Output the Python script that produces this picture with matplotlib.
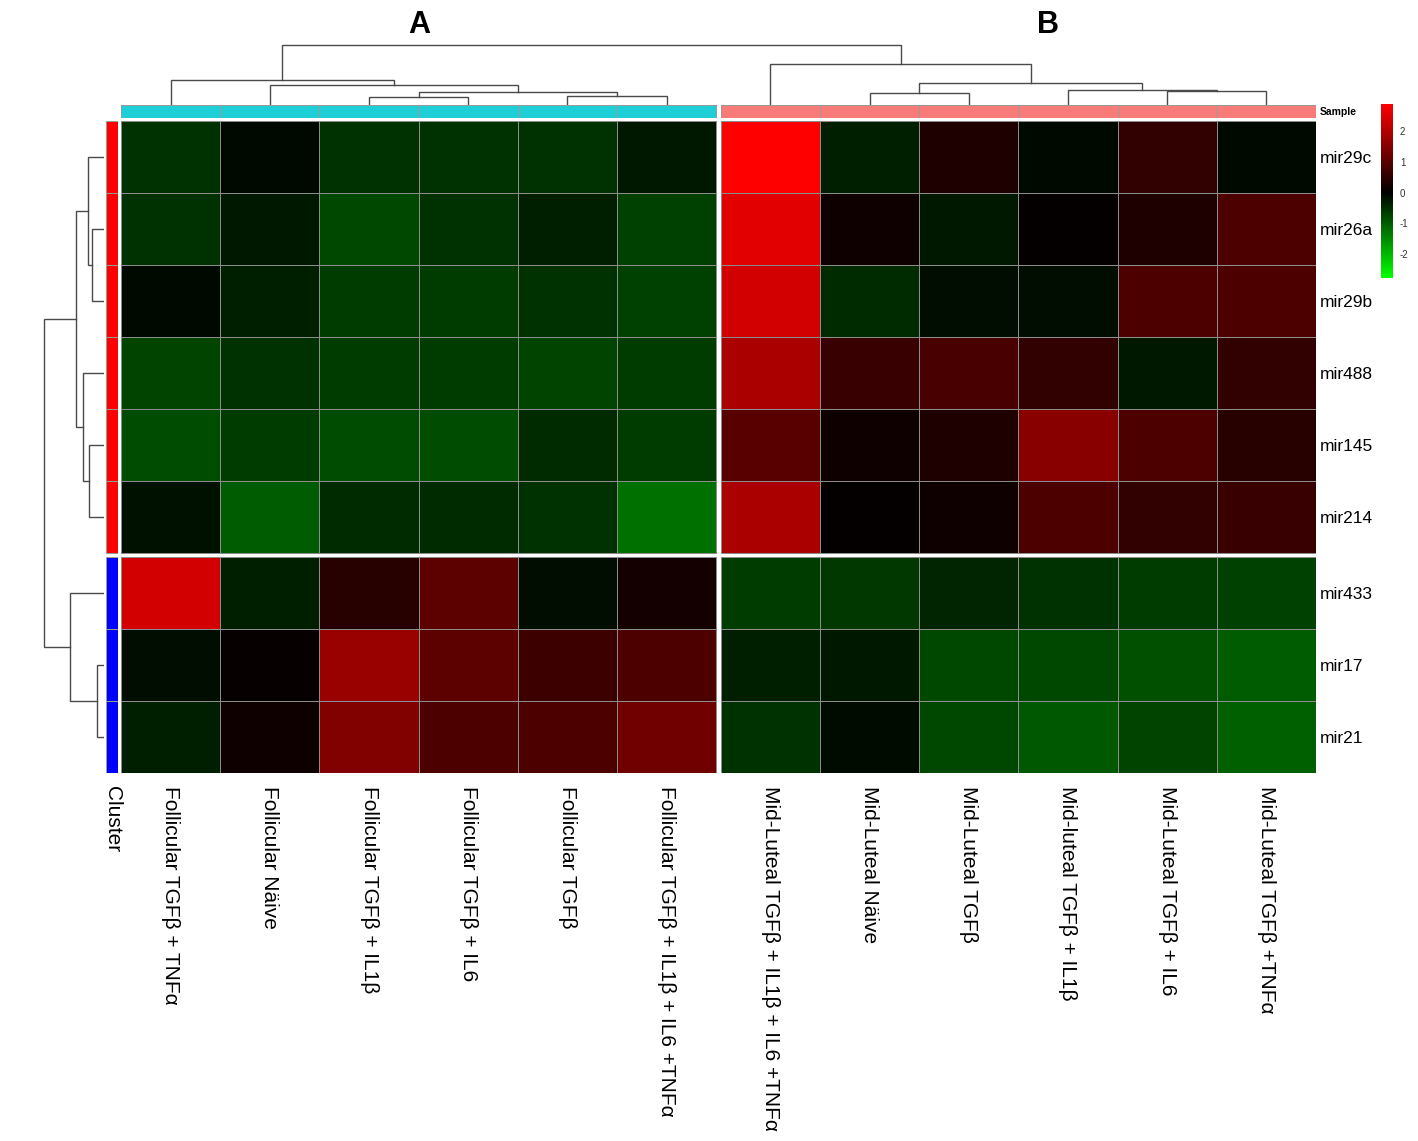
import numpy as np
import matplotlib.pyplot as plt
from matplotlib.colors import LinearSegmentedColormap, Normalize, ListedColormap
from matplotlib.cm import ScalarMappable

plt.rcParams['font.family'] = ['Liberation Sans', 'DejaVu Sans']
plt.rcParams['axes.unicode_minus'] = False

# ---- data ----
samples = ['Follicular TGFβ + TNFα', 'Follicular Näive', 'Follicular TGFβ + IL1β',
           'Follicular TGFβ + IL6', 'Follicular TGFβ', 'Follicular TGFβ + IL1β + IL6 +TNFα',
           'Mid-Luteal TGFβ + IL1β + IL6 +TNFα', 'Mid-Luteal Näive', 'Mid-Luteal TGFβ',
           'Mid-luteal TGFβ + IL1β', 'Mid-Luteal TGFβ + IL6', 'Mid-Luteal TGFβ +TNFα']
sample_group = [0, 0, 0, 0, 0, 0, 1, 1, 1, 1, 1, 1]      # 0 = follicular, 1 = mid-luteal
mirnas = ['mir29c', 'mir26a', 'mir29b', 'mir488', 'mir145', 'mir214', 'mir433', 'mir17', 'mir21']
mirna_cluster = [0, 0, 0, 0, 0, 0, 1, 1, 1]

mir29c = [-0.53, -0.09, -0.53, -0.53, -0.53, -0.26, 2.90, -0.35, 0.36, -0.09, 0.55, -0.09]
mir26a = [-0.53, -0.26, -0.79, -0.53, -0.35, -0.70, 2.55, 0.18, -0.26, 0.07, 0.36, 0.86]
mir29b = [-0.09, -0.35, -0.66, -0.66, -0.53, -0.70, 2.37, -0.48, -0.13, -0.13, 0.86, 0.86]
mir488 = [-0.75, -0.53, -0.66, -0.66, -0.75, -0.66, 1.93, 0.64, 0.82, 0.55, -0.26, 0.55]
mir145 = [-0.83, -0.66, -0.83, -0.83, -0.48, -0.66, 1.00, 0.18, 0.36, 1.55, 0.86, 0.45]
mir214 = [-0.18, -1.01, -0.48, -0.48, -0.53, -1.23, 1.93, 0.07, 0.18, 0.86, 0.55, 0.64]
mir433 = [2.37, -0.35, 0.45, 1.05, -0.13, 0.23, -0.66, -0.61, -0.40, -0.53, -0.66, -0.70]
mir17 = [-0.13, 0.09, 1.73, 1.05, 0.68, 0.86, -0.35, -0.26, -0.79, -0.79, -0.88, -1.01]
mir21 = [-0.35, 0.18, 1.46, 0.86, 0.86, 1.27, -0.53, -0.11, -0.79, -0.97, -0.75, -1.05]

# dendrograms: (left, right, height), ids >= n_leaves point at earlier merges
col_merges = [(2, 3, 8), (4, 5, 9), (12, 13, 13), (1, 14, 20), (0, 15, 25.5),
              (10, 11, 14), (9, 17, 15.3), (7, 8, 12), (19, 18, 22.4), (6, 20, 41.5),
              (16, 21, 60)]
row_merges = [(1, 2, 12), (0, 9, 16.4), (4, 5, 14.8), (3, 11, 20.7), (10, 12, 27.9),
              (7, 8, 6.6), (6, 14, 33.8), (13, 15, 60)]

vals = np.array([mir29c, mir26a, mir29b, mir488, mir145, mir214, mir433, mir17, mir21])

# ---- layout helpers (pixel boxes of the reference) ----
W, H = 1418, 1141
def box(x0, y0, x1, y1):
    return [x0 / W, 1 - y1 / H, (x1 - x0) / W, (y1 - y0) / H]

gx, gy = 0.045, 0.06          # gaps between the cut groups
ncol, nrow = len(samples), len(mirnas)
col_cut, row_cut = 6, 6
col_pos = np.arange(ncol) + 0.5 + np.where(np.arange(ncol) >= col_cut, gx, 0)
row_pos = np.arange(nrow) + 0.5 + np.where(np.arange(nrow) >= row_cut, gy, 0)
col_blocks = [(0, col_cut), (col_cut, ncol)]
row_blocks = [(0, row_cut), (row_cut, nrow)]

vmin, vmax = -2.8, 2.9
f0 = -vmin / (vmax - vmin)
cmap = LinearSegmentedColormap.from_list('gr', [(0, (0, 1, 0)), (f0, (0, 0, 0)), (1, (1, 0, 0))])
norm = Normalize(vmin, vmax)
edge = '#8c8c8c'

fig = plt.figure(figsize=(W / 100, H / 100), dpi=100)

# ---- heatmap ----
ax = fig.add_axes(box(121, 121, 1316, 773))
for c0, c1 in col_blocks:
    for r0, r1 in row_blocks:
        xe = np.arange(c0, c1 + 1) + (gx if c0 >= col_cut else 0)
        ye = np.arange(r0, r1 + 1) + (gy if r0 >= row_cut else 0)
        ax.pcolormesh(xe, ye, vals[r0:r1, c0:c1], cmap=cmap, norm=norm,
                      edgecolors=edge, linewidth=0.7)
ax.set_xlim(0, ncol + gx)
ax.set_ylim(nrow + gy, 0)
for s in ax.spines.values():
    s.set_visible(False)
ax.set_xticks(col_pos)
ax.set_xticklabels(samples, rotation=270, fontsize=15)
ax.yaxis.tick_right()
ax.set_yticks(row_pos)
ax.set_yticklabels(mirnas, fontsize=12.5)
ax.tick_params(axis='x', length=0, pad=9)
ax.tick_params(axis='y', length=0, pad=3)

# ---- annotation bars ----
axs = fig.add_axes(box(121, 105, 1316, 118))
grp = np.array(sample_group)[None, :]
for c0, c1 in col_blocks:
    xe = np.arange(c0, c1 + 1) + (gx if c0 >= col_cut else 0)
    axs.pcolormesh(xe, [0, 1], grp[:, c0:c1], cmap=ListedColormap(['#1fcfd8', '#f77b79']),
                   vmin=0, vmax=1, edgecolors='#9a9a9a', linewidth=0.7)
axs.set_xlim(0, ncol + gx)
axs.set_ylim(0, 1)
axs.axis('off')

axc = fig.add_axes(box(106, 121, 118, 773))
clu = np.array(mirna_cluster)[:, None]
for r0, r1 in row_blocks:
    ye = np.arange(r0, r1 + 1) + (gy if r0 >= row_cut else 0)
    axc.pcolormesh([0, 1], ye, clu[r0:r1], cmap=ListedColormap(['#ff0000', '#0000ff']),
                   vmin=0, vmax=1, edgecolors='#9a9a9a', linewidth=0.6)
axc.set_xlim(0, 1)
axc.set_ylim(nrow + gy, 0)
axc.axis('off')

# ---- dendrograms ----
def draw_dendro(ax, merges, leaf_pos, top):
    pos = list(leaf_pos)
    hgt = [0.0] * len(leaf_pos)
    for a, b, h in merges:
        xs = [pos[a], pos[a], pos[b], pos[b]]
        ys = [hgt[a], h, h, hgt[b]]
        if top:
            ax.plot(xs, ys, color='#4a4a4a', lw=1.0, solid_joinstyle='miter')
        else:
            ax.plot(ys, xs, color='#4a4a4a', lw=1.0, solid_joinstyle='miter')
        pos.append((pos[a] + pos[b]) / 2)
        hgt.append(h)

axt = fig.add_axes(box(121, 40, 1316, 105))
draw_dendro(axt, col_merges, col_pos, True)
axt.set_xlim(0, ncol + gx)
axt.set_ylim(0, 65)
axt.axis('off')

axl = fig.add_axes(box(40, 121, 104, 773))
draw_dendro(axl, row_merges, row_pos, False)
axl.set_xlim(64, 0)
axl.set_ylim(nrow + gy, 0)
axl.axis('off')

# ---- colour key ----
cax = fig.add_axes(box(1381, 104, 1393, 278))
cb = fig.colorbar(ScalarMappable(norm=norm, cmap=cmap), cax=cax)
cb.outline.set_visible(False)
cb.set_ticks([-2, -1, 0, 1, 2])
cax.tick_params(labelsize=7, length=0, pad=5, colors='#333333')

# ---- texts ----
fig.text(1320 / W, 1 - 112 / H, 'Sample', fontsize=7.5, weight='bold', ha='left', va='center')
fig.text(113 / W, 1 - 786 / H, 'Cluster', fontsize=15, rotation=270, ha='center', va='top')
fig.text(419 / W, 1 - 25 / H, 'A', fontsize=22, weight='bold', ha='center', va='center')
fig.text(1048 / W, 1 - 25 / H, 'B', fontsize=22, weight='bold', ha='center', va='center')

fig.savefig('out.png', dpi=100)
